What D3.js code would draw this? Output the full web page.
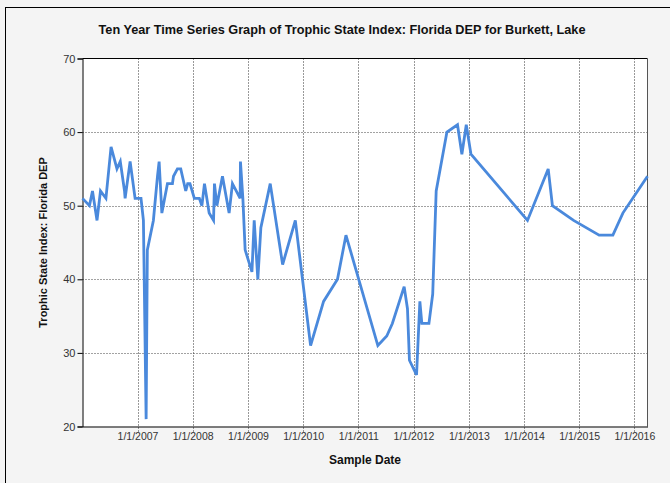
<!DOCTYPE html>
<html>
<head>
<meta charset="utf-8">
<script src="https://cdn.jsdelivr.net/npm/d3@7"></script>
<style>
  html, body { margin: 0; padding: 0; background: #f4f4f4; }
  svg { display: block; font-family: "Liberation Sans", Arial, sans-serif; }
</style>
</head>
<body>
<svg id="chart" width="670" height="483"></svg>
<script>
const sampleDates = [
  "2006-01-02","2006-02-17","2006-03-09","2006-04-08","2006-05-01","2006-06-06",
  "2006-07-10","2006-08-18","2006-09-09","2006-10-07","2006-10-11","2006-11-13",
  "2006-12-16","2007-01-24","2007-02-09","2007-02-27","2007-03-07","2007-04-16",
  "2007-05-13","2007-05-24","2007-06-11","2007-07-18","2007-08-20","2007-08-27",
  "2007-09-22","2007-10-14","2007-11-16","2007-11-29","2007-12-14","2008-01-12",
  "2008-02-14","2008-03-02","2008-03-19","2008-04-19","2008-05-18","2008-05-24",
  "2008-06-09","2008-07-16","2008-08-29","2008-09-20","2008-11-10","2008-11-12",
  "2008-11-28","2008-12-13","2009-01-27","2009-02-11","2009-03-07","2009-03-27",
  "2009-05-28","2009-08-18","2009-11-10","2010-02-19","2010-05-16","2010-08-16",
  "2010-10-11","2011-05-10","2011-07-08","2011-08-14","2011-10-31","2011-11-22",
  "2011-12-05","2012-01-21","2012-02-12","2012-02-25","2012-04-12","2012-05-07",
  "2012-05-30","2012-08-09","2012-10-18","2012-11-16","2012-12-15","2013-01-15",
  "2014-01-24","2014-06-10","2014-07-08","2014-11-25","2015-05-13","2015-08-12",
  "2015-10-17","2016-03-28"
];
const tsiValues = [
  51, 50, 52, 48, 52, 51,
  58, 55, 56, 52, 51, 56,
  51, 51, 48, 21, 44, 48,
  54, 56, 49, 53, 53, 54,
  55, 55, 52, 53, 53, 51,
  51, 50, 53, 49, 48, 53,
  50, 54, 49, 53, 51, 56,
  51, 44, 41, 48, 40, 47,
  53, 42, 48, 31, 37, 40,
  46, 31, 32.3, 34, 39, 36,
  29, 27, 37, 34, 34, 38,
  52, 60, 61, 57, 61, 57,
  48, 55, 50, 48, 46, 46,
  49, 54
];
const yTicks = [20, 30, 40, 50, 60, 70];
const xTickYears = [2007, 2008, 2009, 2010, 2011, 2012, 2013, 2014, 2015, 2016];

const titleText = "Ten Year Time Series Graph of Trophic State Index: Florida DEP for Burkett, Lake";
const xLabel = "Sample Date";
const yLabel = "Trophic State Index: Florida DEP";

const parse = d3.timeParse("%Y-%m-%d");
const data = sampleDates.map((d, i) => ({ date: parse(d), value: tsiValues[i] }));

const svg = d3.select("#chart");
const m = { left: 82.5, top: 58.5, right: 647.5, bottom: 426.5 };

// outer frame (partially off-canvas)
svg.append("rect").attr("x", 5.5).attr("y", 7.5).attr("width", 700).attr("height", 500)
  .attr("fill", "#f4f4f4").attr("stroke", "#000").attr("stroke-width", 1);

const x = d3.scaleTime().domain(d3.extent(data, d => d.date)).range([m.left, m.right]);
const y = d3.scaleLinear().domain([20, 70]).range([m.bottom, m.top]);

// plot area
svg.append("rect").attr("x", m.left).attr("y", m.top)
  .attr("width", m.right - m.left).attr("height", m.bottom - m.top)
  .attr("fill", "#fff");

const xTicks = xTickYears.map(yr => new Date(yr, 0, 1));

// horizontal grid
svg.append("g").selectAll("line").data(yTicks.filter(t => t > 20 && t < 70)).join("line")
  .attr("x1", m.left).attr("x2", m.right)
  .attr("y1", d => Math.round(y(d)) + 0.5).attr("y2", d => Math.round(y(d)) + 0.5)
  .attr("stroke", "#444").attr("stroke-width", 1).attr("stroke-dasharray", "1,2");

// vertical grid + tick extensions
svg.append("g").selectAll("line").data(xTicks).join("line")
  .attr("x1", d => Math.round(x(d)) + 0.5).attr("x2", d => Math.round(x(d)) + 0.5)
  .attr("y1", m.top).attr("y2", m.bottom + 6)
  .attr("stroke", "#333").attr("stroke-width", 1).attr("stroke-dasharray", "1,2");

// frame
svg.append("line").attr("x1", m.left).attr("x2", m.right).attr("y1", m.top).attr("y2", m.top)
  .attr("stroke", "#000");
svg.append("line").attr("x1", m.right).attr("x2", m.right).attr("y1", m.top).attr("y2", m.bottom)
  .attr("stroke", "#555");

// y axis
const yAxis = d3.axisLeft(y).tickValues(yTicks).tickSize(5).tickPadding(2);
const gy = svg.append("g").attr("transform", `translate(${m.left},0)`).call(yAxis);
gy.select(".domain").attr("stroke", "#000");
gy.selectAll(".tick line").attr("stroke", "#000");
gy.selectAll(".tick text").attr("font-size", "11px").attr("fill", "#333")
  .attr("font-family", "Liberation Sans, Arial, sans-serif");

// x axis
const xAxis = d3.axisBottom(x).tickValues(xTicks).tickSize(0).tickPadding(6)
  .tickFormat(d3.timeFormat("%-m/%-d/%Y"));
const gx = svg.append("g").attr("transform", `translate(0,${m.bottom})`).call(xAxis);
gx.select(".domain").attr("stroke", "#000");
gx.selectAll(".tick text").attr("font-size", "10.5px").attr("fill", "#333")
  .attr("font-family", "Liberation Sans, Arial, sans-serif");

// data line
const line = d3.line().x(d => x(d.date)).y(d => y(d.value));
svg.append("path").datum(data).attr("d", line)
  .attr("fill", "none").attr("stroke", "#4a89dc").attr("stroke-width", 2.8)
  .attr("stroke-linejoin", "miter").attr("stroke-miterlimit", 4);

// titles
svg.append("text").attr("x", 342).attr("y", 34).attr("text-anchor", "middle")
  .attr("font-size", "12.7px").attr("font-weight", "bold").attr("fill", "#111")
  .text(titleText);
svg.append("text").attr("x", 365).attr("y", 464).attr("text-anchor", "middle")
  .attr("font-size", "12px").attr("font-weight", "bold").attr("fill", "#111")
  .text(xLabel);
svg.append("text").attr("transform", `translate(47,${(m.top + m.bottom) / 2}) rotate(-90)`)
  .attr("text-anchor", "middle")
  .attr("font-size", "11px").attr("font-weight", "bold").attr("fill", "#111")
  .text(yLabel);
</script>
</body>
</html>
